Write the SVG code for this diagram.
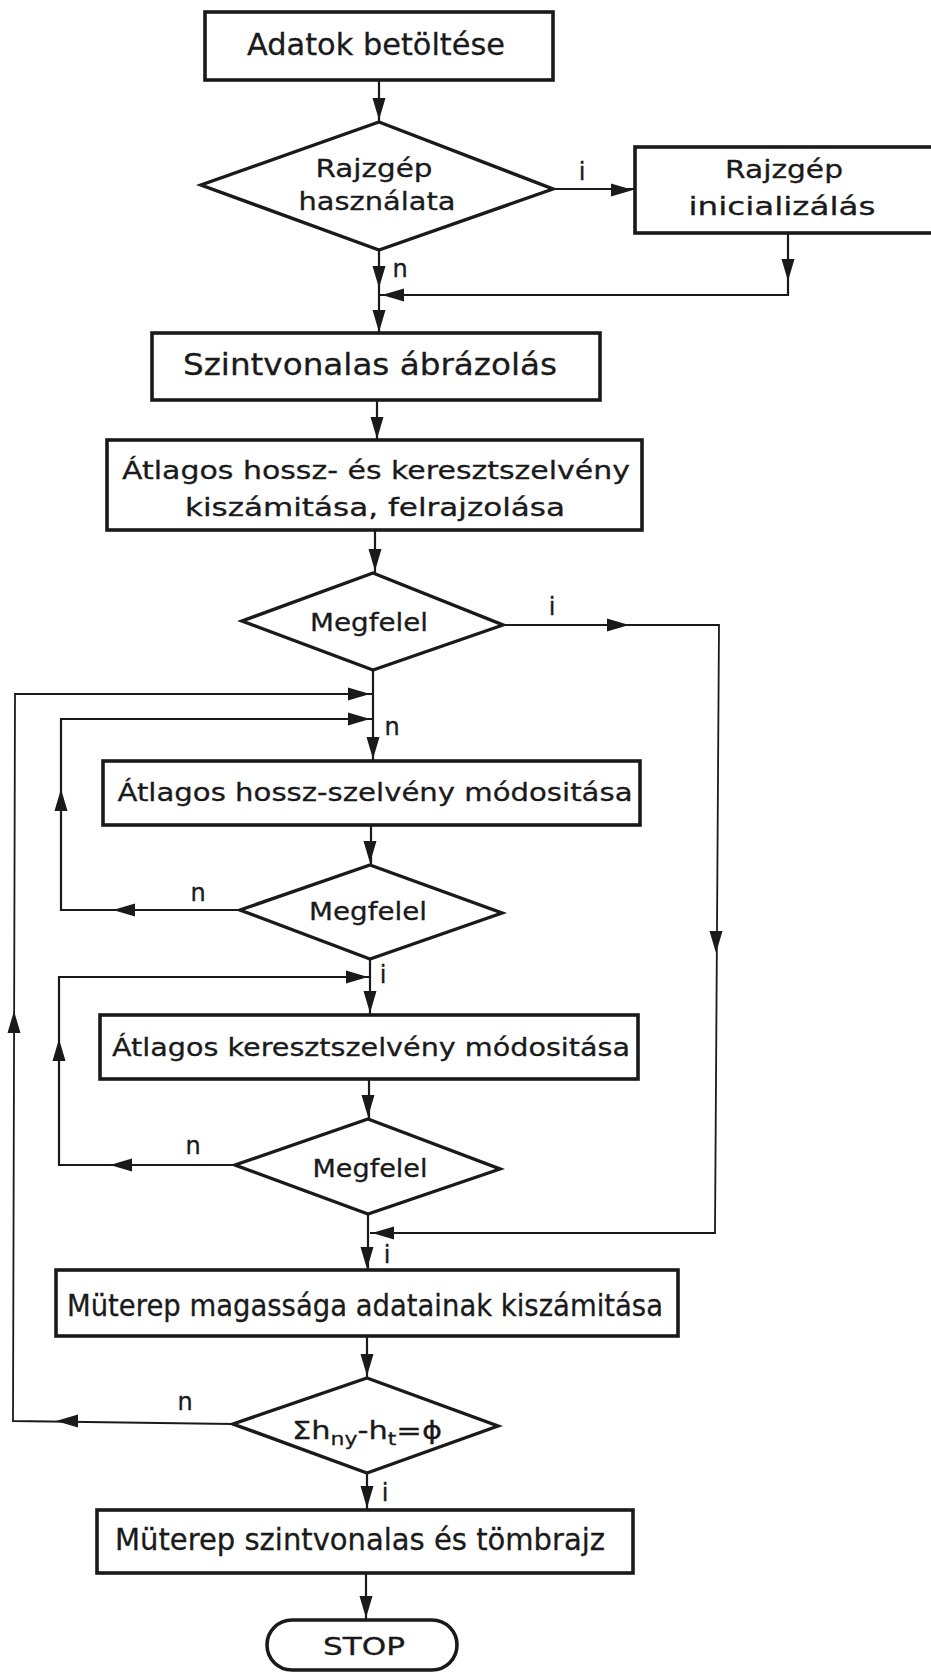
<svg xmlns="http://www.w3.org/2000/svg" xmlns:xlink="http://www.w3.org/1999/xlink" width="931" height="1673" viewBox="0 0 931 1673">
<style>
.box{fill:#fff;stroke:#1a1a1a;stroke-width:3.6}
.dia{fill:#fff;stroke:#1a1a1a;stroke-width:3.4;stroke-linejoin:miter}
.con{fill:none;stroke:#1a1a1a;stroke-width:2.2}
.thin{fill:none;stroke:#1a1a1a;stroke-width:1.8}
.ah{fill:#1a1a1a}
text{font-family:"DejaVu Sans","Liberation Sans",sans-serif;fill:#1a1a1a;stroke:#1a1a1a;stroke-width:0.3}
.big{font-size:30px}
.mid{font-size:25px}
.lbl{font-size:24px}
</style>
<defs>
<path id="ah" d="M0,0 L-22,-6.5 L-22,6.5 Z"/>
</defs>
<rect x="0" y="0" width="931" height="1673" fill="#fff"/>

<g id="connectors">
<path class="con" d="M379,80 V122"/>
<path class="con" d="M553,189 H635"/>
<path class="con" d="M379,250 V333"/>
<path class="con" d="M788,233 V295 H379"/>
<path class="con" d="M377,400 V440"/>
<path class="con" d="M375,530 V573"/>
<path class="thin" d="M503,625 H719 L715,1233 H370"/>
<path class="con" d="M373,670 V761"/>
<path class="thin" d="M233,1424 L13,1421 L15,694 H373"/>
<path class="con" d="M240,910 H61 V719 H373"/>
<path class="con" d="M235,1165 H59 V977 H370"/>
<path class="con" d="M371,825 V865"/>
<path class="con" d="M370,959 V1015"/>
<path class="con" d="M369,1079 V1119"/>
<path class="con" d="M368,1214 V1270"/>
<path class="con" d="M367,1336 V1378"/>
<path class="con" d="M367,1473 V1510"/>
<path class="con" d="M366,1573 V1620"/>

<use href="#ah" class="ah" transform="translate(379,120) rotate(90)"/>
<use href="#ah" class="ah" transform="translate(633,190)"/>
<use href="#ah" class="ah" transform="translate(379,288) rotate(90)"/>
<use href="#ah" class="ah" transform="translate(788,281) rotate(90)"/>
<use href="#ah" class="ah" transform="translate(382,295) rotate(180)"/>
<use href="#ah" class="ah" transform="translate(379,332) rotate(90)"/>
<use href="#ah" class="ah" transform="translate(377,439) rotate(90)"/>
<use href="#ah" class="ah" transform="translate(375,571) rotate(90)"/>
<use href="#ah" class="ah" transform="translate(629,625)"/>
<use href="#ah" class="ah" transform="translate(370,694)"/>
<use href="#ah" class="ah" transform="translate(370,719)"/>
<use href="#ah" class="ah" transform="translate(373,759) rotate(90)"/>
<use href="#ah" class="ah" transform="translate(61,789) rotate(-90)"/>
<use href="#ah" class="ah" transform="translate(370,863) rotate(90)"/>
<use href="#ah" class="ah" transform="translate(113,910) rotate(180)"/>
<use href="#ah" class="ah" transform="translate(716,953) rotate(90)"/>
<use href="#ah" class="ah" transform="translate(368,977)"/>
<use href="#ah" class="ah" transform="translate(370,1013) rotate(90)"/>
<use href="#ah" class="ah" transform="translate(59,1039) rotate(-90)"/>
<use href="#ah" class="ah" transform="translate(14,1011) rotate(-90)"/>
<use href="#ah" class="ah" transform="translate(368,1117) rotate(90)"/>
<use href="#ah" class="ah" transform="translate(110,1165) rotate(180)"/>
<use href="#ah" class="ah" transform="translate(372,1233) rotate(180)"/>
<use href="#ah" class="ah" transform="translate(367,1269) rotate(90)"/>
<use href="#ah" class="ah" transform="translate(367,1376) rotate(90)"/>
<use href="#ah" class="ah" transform="translate(56,1421) rotate(180)"/>
<use href="#ah" class="ah" transform="translate(367,1508) rotate(90)"/>
<use href="#ah" class="ah" transform="translate(366,1618) rotate(90)"/>

<text class="lbl" x="582" y="180" text-anchor="middle">i</text>
<text class="lbl" x="400" y="277" text-anchor="middle">n</text>
<text class="lbl" x="552" y="615" text-anchor="middle">i</text>
<text class="lbl" x="392" y="735" text-anchor="middle">n</text>
<text class="lbl" x="198" y="901" text-anchor="middle">n</text>
<text class="lbl" x="383" y="983" text-anchor="middle">i</text>
<text class="lbl" x="193" y="1154" text-anchor="middle">n</text>
<text class="lbl" x="387" y="1263" text-anchor="middle">i</text>
<text class="lbl" x="185" y="1410" text-anchor="middle">n</text>
<text class="lbl" x="385" y="1501" text-anchor="middle">i</text>
</g>

<g id="n1">
<rect class="box" x="205" y="12" width="348" height="68"/>
<text class="big" x="376" y="55" text-anchor="middle" textLength="258" lengthAdjust="spacingAndGlyphs">Adatok betöltése</text>
</g>

<g id="n2">
<polygon class="dia" points="379,122 553,189 379,250 201,185"/>
<text class="mid" x="374" y="177" text-anchor="middle" textLength="117" lengthAdjust="spacingAndGlyphs">Rajzgép</text>
<text class="mid" x="377" y="210" text-anchor="middle" textLength="157" lengthAdjust="spacingAndGlyphs">használata</text>
</g>

<g id="n3">
<rect class="box" x="635" y="147" width="330" height="86"/>
<text class="mid" x="784" y="178" text-anchor="middle" textLength="118" lengthAdjust="spacingAndGlyphs">Rajzgép</text>
<text class="mid" x="782" y="215" text-anchor="middle" textLength="187" lengthAdjust="spacingAndGlyphs">inicializálás</text>
</g>

<g id="n4">
<rect class="box" x="152" y="333" width="448" height="67"/>
<text class="big" x="370" y="375" text-anchor="middle" textLength="374" lengthAdjust="spacingAndGlyphs">Szintvonalas  ábrázolás</text>
</g>

<g id="n5">
<rect class="box" x="107" y="440" width="535" height="90"/>
<text class="mid" x="376" y="479" text-anchor="middle" textLength="508" lengthAdjust="spacingAndGlyphs">Átlagos  hossz- és keresztszelvény</text>
<text class="mid" x="375" y="516" text-anchor="middle" textLength="380" lengthAdjust="spacingAndGlyphs">kiszámitása,  felrajzolása</text>
</g>

<g id="n6">
<polygon class="dia" points="373,573 503,625 373,670 242,621"/>
<text class="mid" x="369" y="631" text-anchor="middle" textLength="118" lengthAdjust="spacingAndGlyphs">Megfelel</text>
</g>

<g id="n7">
<rect class="box" x="103" y="761" width="537" height="64"/>
<text class="mid" x="375" y="801" text-anchor="middle" textLength="515" lengthAdjust="spacingAndGlyphs">Átlagos  hossz-szelvény módositása</text>
</g>

<g id="n8">
<polygon class="dia" points="370,865 502,913 370,959 240,910"/>
<text class="mid" x="368" y="920" text-anchor="middle" textLength="118" lengthAdjust="spacingAndGlyphs">Megfelel</text>
</g>

<g id="n9">
<rect class="box" x="100" y="1015" width="538" height="64"/>
<text class="mid" x="371" y="1056" text-anchor="middle" textLength="518" lengthAdjust="spacingAndGlyphs">Átlagos keresztszelvény módositása</text>
</g>

<g id="n10">
<polygon class="dia" points="368,1119 500,1169 368,1214 235,1165"/>
<text class="mid" x="370" y="1177" text-anchor="middle" textLength="115" lengthAdjust="spacingAndGlyphs">Megfelel</text>
</g>

<g id="n11">
<rect class="box" x="56" y="1270" width="622" height="66"/>
<text class="big" x="365" y="1316" text-anchor="middle" textLength="596" lengthAdjust="spacingAndGlyphs">Müterep magassága adatainak kiszámitása</text>
</g>

<g id="n12">
<polygon class="dia" points="367,1378 498,1426 367,1473 233,1424"/>
<text class="mid" x="292" y="1439" textLength="150" lengthAdjust="spacingAndGlyphs">Σh<tspan font-size="18" dy="6">ny</tspan><tspan dy="-6">-h</tspan><tspan font-size="18" dy="6">t</tspan><tspan dy="-6">=ϕ</tspan></text>
</g>

<g id="n13">
<rect class="box" x="97" y="1510" width="536" height="63"/>
<text class="big" x="360" y="1550" text-anchor="middle" textLength="490" lengthAdjust="spacingAndGlyphs">Müterep szintvonalas és tömbrajz</text>
</g>

<g id="n14">
<rect class="box" x="267" y="1620" width="190" height="50" rx="25" ry="25"/>
<text class="mid" x="364" y="1655" text-anchor="middle" textLength="82" lengthAdjust="spacingAndGlyphs">STOP</text>
</g>
</svg>
